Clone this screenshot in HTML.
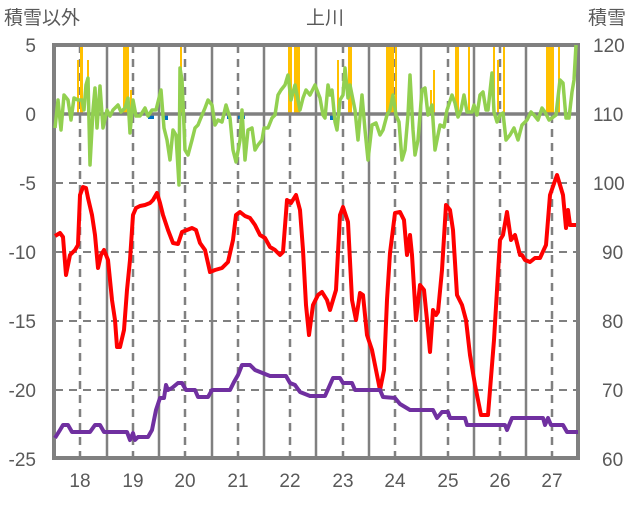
<!DOCTYPE html><html><head><meta charset="utf-8"><style>body{margin:0;background:#fff}svg text{font-family:"Liberation Sans","Noto Sans CJK JP",sans-serif;fill:#595959;font-size:19px}</style></head><body>
<svg width="636" height="501" viewBox="0 0 636 501">
<g stroke="#808080" stroke-width="2" stroke-dasharray="8,6">
<line x1="55" x2="578" y1="183" y2="183"/><line x1="55" x2="578" y1="252" y2="252"/><line x1="55" x2="578" y1="321" y2="321"/><line x1="55" x2="578" y1="390" y2="390"/>
</g>
<g stroke="#808080" stroke-width="2.5">
<line x1="107" x2="107" y1="45" y2="459"/><line x1="159" x2="159" y1="45" y2="459"/><line x1="212" x2="212" y1="45" y2="459"/><line x1="264" x2="264" y1="45" y2="459"/><line x1="316" x2="316" y1="45" y2="459"/><line x1="369" x2="369" y1="45" y2="459"/><line x1="421" x2="421" y1="45" y2="459"/><line x1="474" x2="474" y1="45" y2="459"/><line x1="526" x2="526" y1="45" y2="459"/>
</g>
<g stroke="#808080" stroke-width="2.5" stroke-dasharray="8,6">
<line x1="80" x2="80" y1="45" y2="459"/><line x1="133" x2="133" y1="45" y2="459"/><line x1="185" x2="185" y1="45" y2="459"/><line x1="238" x2="238" y1="45" y2="459"/><line x1="290" x2="290" y1="45" y2="459"/><line x1="343" x2="343" y1="45" y2="459"/><line x1="395" x2="395" y1="45" y2="459"/><line x1="448" x2="448" y1="45" y2="459"/><line x1="500" x2="500" y1="45" y2="459"/><line x1="552" x2="552" y1="45" y2="459"/>
</g>
<g fill="#ffc000">
<rect x="77" y="60" width="2" height="54"/><rect x="80" y="45" width="3" height="69"/><rect x="87" y="60" width="2" height="54"/>
<rect x="123" y="45" width="6" height="69"/><rect x="130" y="90" width="2" height="24"/>
<rect x="180" y="45" width="2" height="69"/>
<rect x="288" y="45" width="4" height="69"/><rect x="294" y="45" width="6" height="69"/>
<rect x="337" y="60" width="2" height="54"/><rect x="348" y="45" width="4" height="69"/>
<rect x="386" y="45" width="8" height="69"/><rect x="395" y="45" width="2" height="69"/>
<rect x="430" y="90" width="2" height="24"/><rect x="433" y="70" width="2" height="44"/>
<rect x="455" y="45" width="4" height="69"/><rect x="468" y="45" width="2" height="69"/>
<rect x="493" y="45" width="2" height="69"/><rect x="497" y="60" width="2" height="54"/><rect x="503" y="45" width="2" height="69"/>
<rect x="546" y="45" width="8" height="69"/><rect x="558" y="45" width="2" height="69"/>
</g>
<g fill="#0070c0">
<rect x="60" y="114" width="3" height="5"/><rect x="148" y="114" width="6" height="5"/><rect x="162" y="114" width="6" height="6"/><rect x="227" y="114" width="4" height="5"/><rect x="238" y="114" width="7" height="5"/><rect x="330" y="114" width="4" height="6"/>
</g>
<rect x="54" y="45" width="524" height="413" fill="none" stroke="#808080" stroke-width="4"/>
<line x1="54" x2="578" y1="114" y2="114" stroke="#808080" stroke-width="3.5"/>
<polyline fill="none" stroke="#92d050" stroke-width="3.5" stroke-linejoin="round" points="55,128 58,100 61,130 64,95 68,100 71,120 74,98 78,100 82,100 84,110 86,85 88,78 90,165 93,110 95,88 97,128 100,86 103,128 107,110 110,116 113,110 118,105 121,112 125,108 128,98 130,133 133,100 136,116 140,116 145,108 148,116 152,110 156,110 161,90 164,128 167,140 170,160 173,130 176,135 179,185 180,68 182,80 185,150 188,155 192,140 195,128 198,125 200,120 205,108 208,100 212,105 215,125 218,120 222,122 226,105 230,118 233,150 236,162 240,140 242,110 245,160 248,130 252,128 255,150 258,145 262,140 264,128 268,128 272,118 275,115 278,95 281,90 285,85 288,75 291,100 295,85 300,110 303,98 306,90 310,95 315,85 320,98 323,115 325,118 328,85 330,95 332,90 335,122 337,130 340,100 343,95 345,68 348,98 350,85 355,110 358,140 362,95 365,130 368,160 372,125 376,123 380,135 383,130 387,115 390,110 393,95 396,115 399,122 402,160 405,150 408,115 410,75 413,130 415,155 418,140 422,90 425,88 428,115 432,105 435,150 440,125 444,127 447,110 452,95 455,103 458,117 461,110 464,95 467,112 472,112 474,105 477,115 480,95 483,92 486,110 488,110 492,73 494,112 497,122 500,115 503,113 506,140 510,135 514,128 518,140 522,125 527,120 531,112 534,115 538,120 542,108 545,112 549,120 552,118 556,115 560,80 563,83 566,118 569,118 572,92 574,80 576,45"/>
<polyline fill="none" stroke="#ff0000" stroke-width="4" stroke-linejoin="round" points="55,236 60,233 63,237 66,275 70,255 75,250 78,245 80,195 83,187 86,188 88,198 92,215 95,235 98,268 101,255 104,250 108,260 112,300 115,320 117,347 120,347 124,330 127,290 130,260 133,215 136,208 140,206 145,205 150,203 153,200 157,193 160,203 163,215 168,230 173,243 178,244 182,232 187,230 192,228 196,230 200,243 205,250 210,272 215,270 222,268 228,262 233,240 236,215 240,212 245,216 250,218 255,225 260,235 265,238 270,247 275,250 280,255 283,252 287,200 291,203 296,195 300,210 303,250 306,305 309,335 313,305 318,295 322,292 327,300 330,310 336,290 340,215 343,207 348,222 352,300 356,320 360,293 363,295 367,335 372,350 376,370 380,390 384,370 387,300 390,253 395,213 400,212 404,220 407,255 410,235 412,255 416,320 420,285 424,290 427,320 430,352 433,310 436,315 438,312 442,270 446,205 450,210 453,230 457,295 462,305 466,320 470,355 475,385 481,415 488,415 494,340 500,240 503,235 507,212 511,240 515,235 520,255 522,255 525,260 530,262 535,258 540,258 546,245 550,195 557,175 563,195 566,228 568,210 570,225 576,225"/>
<polyline fill="none" stroke="#7030a0" stroke-width="4" stroke-linejoin="round" points="55,438 60,430 63,425 68,425 72,432 90,432 95,425 100,425 104,432 127,432 130,440 133,433 135,440 138,437 148,437 152,430 156,410 160,398 164,398 166,385 168,390 172,388 178,383 182,383 186,390 195,390 198,397 208,397 212,390 230,390 234,382 238,375 242,365 250,365 255,370 270,376 286,376 290,383 295,385 300,392 310,396 325,396 333,378 340,378 343,383 352,383 355,390 380,390 383,397 395,398 400,404 410,410 433,410 437,418 442,412 448,412 450,418 465,418 467,425 505,425 507,430 512,418 543,418 545,425 548,418 551,425 563,425 567,432 578,432"/>
<text x="4" y="24">積雪以外</text><text x="325" y="24" text-anchor="middle">上川</text><text x="588" y="24">積雪</text>
<g text-anchor="end"><text x="36" y="52">5</text><text x="36" y="121">0</text><text x="36" y="190">-5</text><text x="36" y="259">-10</text><text x="36" y="328">-15</text><text x="36" y="397">-20</text><text x="36" y="466">-25</text></g>
<g><text x="593" y="52">120</text><text x="593" y="121">110</text><text x="593" y="190">100</text><text x="602" y="259">90</text><text x="602" y="328">80</text><text x="602" y="397">70</text><text x="602" y="466">60</text></g>
<g text-anchor="middle"><text x="80" y="487">18</text><text x="133" y="487">19</text><text x="185" y="487">20</text><text x="238" y="487">21</text><text x="290" y="487">22</text><text x="343" y="487">23</text><text x="395" y="487">24</text><text x="448" y="487">25</text><text x="500" y="487">26</text><text x="552" y="487">27</text></g>
</svg></body></html>
